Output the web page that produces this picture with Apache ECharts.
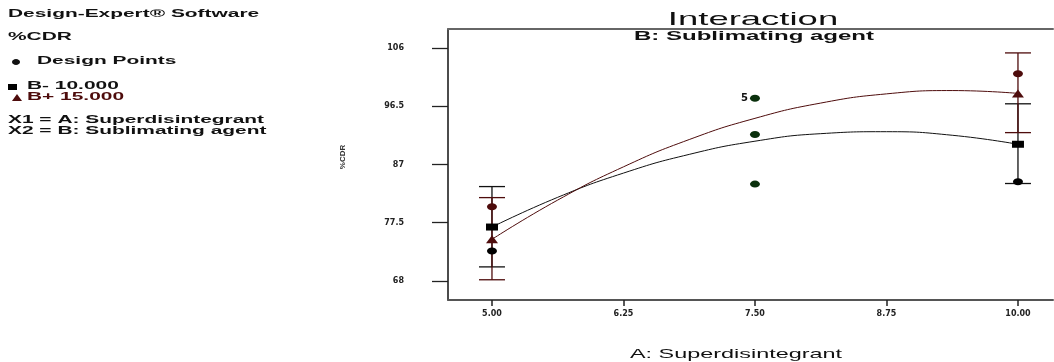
<!DOCTYPE html>
<html>
<head>
<meta charset="utf-8">
<script src="https://cdn.jsdelivr.net/npm/echarts@6/dist/echarts.min.js"></script>
<style>
  html, body { margin: 0; padding: 0; background: #fff; }
  #main { width: 1054px; height: 362px; }
</style>
</head>
<body>
<div id="main"></div>
<script>
// axis ticks
const xTicks = [5, 6.25, 7.5, 8.75, 10];
const yTicks = [68, 77.5, 87, 96.5, 106];

// fitted interaction curves
const curveX = [5, 5.625, 6.25, 6.875, 7.5, 8.125, 8.75, 9.375, 10];
const bMinusCurve = [76.8, 81.65, 85.6, 88.65, 90.8, 92.03, 92.35, 91.77, 90.3];
const bPlusCurve = [74.8, 81.2, 86.62, 91.07, 94.53, 97.02, 98.52, 99.06, 98.6];

// predicted means and LSD bars
const meanX = [5, 10];
const bMinusMean = [76.8, 90.3];
const bPlusMean = [74.8, 98.6];
const bMinusLow = [70.3, 83.9];
const bMinusHigh = [83.4, 96.9];
const bPlusLow = [68.2, 92.2];
const bPlusHigh = [81.6, 105.2];

// design points
const ptX = [5, 10];
const bMinusPts = [72.9, 84.2];
const bPlusPts = [80.1, 101.8];
const centerX = [7.5, 7.5, 7.5];
const centerY = [97.8, 91.9, 83.8];
const centerLabels = ["5", "", ""];

const RED = "#4e0c0c";
const GREEN = "#0a300c";
const FONT = "'Liberation Sans', Arial, sans-serif";

const pairs = (xs, ys) => ys.map((y, i) => [xs[i], y]);
const bars = (low, high) => meanX.map((x, i) => [x, low[i], high[i]]);

function errorBar(color) {
  return function (params, api) {
    const top = api.coord([api.value(0), api.value(2)]);
    const bot = api.coord([api.value(0), api.value(1)]);
    const w = 13;
    const st = { stroke: color, lineWidth: 1.3 };
    return {
      type: "group",
      children: [
        { type: "line", shape: { x1: top[0], y1: top[1], x2: bot[0], y2: bot[1] }, style: st },
        { type: "line", shape: { x1: top[0] - w, y1: top[1], x2: top[0] + w, y2: top[1] }, style: st },
        { type: "line", shape: { x1: bot[0] - w, y1: bot[1], x2: bot[0] + w, y2: bot[1] }, style: st },
      ],
    };
  };
}

// stretched text, the source picture is wide
function txt(x, y, text, size, sx, fill, align, weight) {
  return {
    type: "text",
    x: x,
    y: y,
    scaleX: sx,
    style: {
      text: text,
      fontSize: size,
      fontFamily: FONT,
      fontWeight: weight || "bold",
      fill: fill || "#111",
      align: align || "left",
      verticalAlign: "middle",
    },
  };
}

const chart = echarts.init(document.getElementById("main"));
chart.setOption({
  animation: false,
  grid: { left: 448, right: 1, top: 29, bottom: 62 },
  xAxis: [
    {
      type: "value",
      min: 4.582,
      max: 10.333,
      axisLine: { lineStyle: { color: "#555", width: 2 } },
      axisTick: { length: 6, lineStyle: { color: "#222", width: 1.5 }, customValues: xTicks },
      axisLabel: {
        customValues: xTicks,
        margin: 10,
        fontSize: 8,
        fontWeight: "bold",
        fontFamily: "DejaVu Sans",
        color: "#222",
        formatter: (v) => v.toFixed(2),
      },
      splitLine: { show: false },
    },
    {
      type: "value",
      position: "top",
      min: 4.582,
      max: 10.333,
      axisLine: { lineStyle: { color: "#666", width: 2 } },
      axisTick: { show: false },
      axisLabel: { show: false },
      splitLine: { show: false },
    },
  ],
  yAxis: {
    type: "value",
    min: 64.9,
    max: 109.1,
    axisLine: { show: true, lineStyle: { color: "#111", width: 1.5 } },
    axisTick: { length: 16, lineStyle: { color: "#222", width: 1.3 }, customValues: yTicks },
    axisLabel: {
      customValues: yTicks,
      margin: 44,
      fontSize: 8,
      fontWeight: "bold",
      fontFamily: "DejaVu Sans",
      color: "#222",
    },
    splitLine: { show: false },
  },
  series: [
    {
      type: "line",
      data: pairs(curveX, bMinusCurve),
      smooth: true,
      symbol: "none",
      lineStyle: { color: "#111", width: 1 },
    },
    {
      type: "line",
      data: pairs(curveX, bPlusCurve),
      smooth: true,
      symbol: "none",
      lineStyle: { color: RED, width: 1 },
    },
    { type: "custom", data: bars(bMinusLow, bMinusHigh), renderItem: errorBar("#111"), z: 3 },
    { type: "custom", data: bars(bPlusLow, bPlusHigh), renderItem: errorBar(RED), z: 3 },
    {
      type: "scatter",
      data: pairs(ptX, bMinusPts),
      symbol: "circle",
      symbolSize: [10, 7],
      itemStyle: { color: "#000", opacity: 1 },
      z: 4,
    },
    {
      type: "scatter",
      data: pairs(ptX, bPlusPts),
      symbol: "circle",
      symbolSize: [10, 7],
      itemStyle: { color: RED, opacity: 1 },
      z: 4,
    },
    {
      type: "scatter",
      data: centerY.map((y, i) => ({
        value: [centerX[i], y],
        label: { show: centerLabels[i] !== "", formatter: centerLabels[i] },
      })),
      symbol: "circle",
      symbolSize: [10, 7],
      itemStyle: { color: GREEN, opacity: 1 },
      label: {
        position: "left",
        distance: 2,
        fontSize: 10,
        fontWeight: "bold",
        fontFamily: "DejaVu Sans",
        color: "#111",
      },
      z: 4,
    },
    {
      type: "scatter",
      data: pairs(meanX, bMinusMean),
      symbol: "rect",
      symbolSize: [12, 7],
      itemStyle: { color: "#000", opacity: 1 },
      z: 5,
    },
    {
      type: "scatter",
      data: pairs(meanX, bPlusMean),
      symbol: "triangle",
      symbolSize: [12, 8],
      itemStyle: { color: RED, opacity: 1 },
      z: 5,
    },
  ],
  graphic: [
    txt(8, 14, "Design-Expert® Software", 11, 1.9),
    txt(8, 37, "%CDR", 11, 1.9),
    { type: "ellipse", shape: { cx: 16, cy: 62, rx: 4, ry: 3 }, style: { fill: "#111" } },
    txt(37, 61, "Design Points", 11, 1.9),
    { type: "rect", shape: { x: 8, y: 84, width: 9, height: 6 }, style: { fill: "#000" } },
    txt(27, 86, "B- 10.000", 11, 1.9),
    { type: "polygon", shape: { points: [[17, 94], [12, 101], [22, 101]] }, style: { fill: RED } },
    txt(27, 97, "B+ 15.000", 11, 1.9, RED),
    txt(8, 120, "X1 = A: Superdisintegrant", 11, 1.9),
    txt(8, 131, "X2 = B: Sublimating agent", 11, 1.9),
    txt(753, 20, "Interaction", 19, 1.92, "#111", "center", "normal"),
    txt(754, 37, "B: Sublimating agent", 12, 2.0, "#111", "center"),
    txt(736, 354, "A: Superdisintegrant", 13, 1.8, "#111", "center", "normal"),
    {
      type: "text",
      x: 343,
      y: 157,
      rotation: Math.PI / 2,
      style: {
        text: "%CDR",
        fontSize: 8,
        fontWeight: "bold",
        fontFamily: FONT,
        fill: "#333",
        align: "center",
        verticalAlign: "middle",
      },
    },
  ],
});
</script>
</body>
</html>
